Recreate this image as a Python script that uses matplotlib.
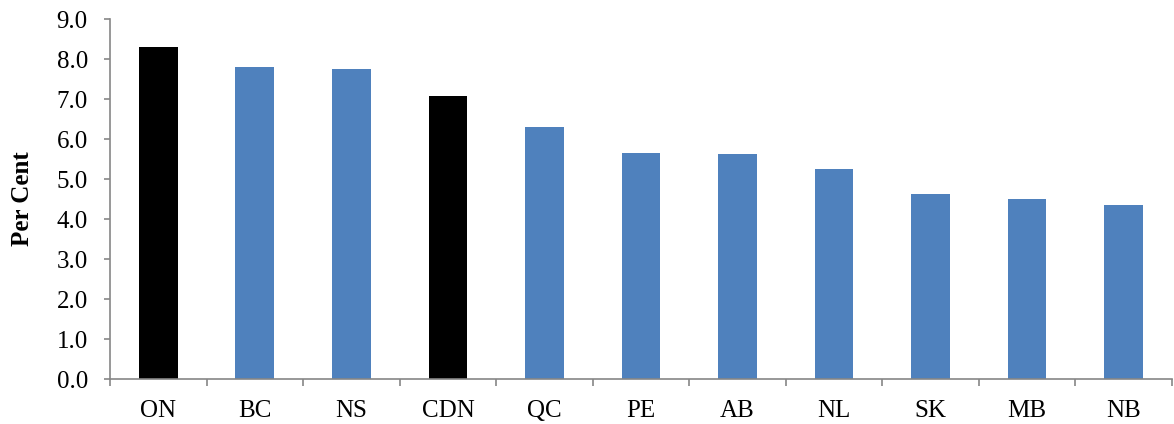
import numpy as np
import matplotlib
matplotlib.use("Agg")
import matplotlib.pyplot as plt

provinces = ["ON", "BC", "NS", "CDN", "QC", "PE", "AB", "NL", "SK", "MB", "NB"]
values = [8.3, 7.79, 7.75, 7.08, 6.29, 5.64, 5.62, 5.26, 4.62, 4.5, 4.35]
highlight = ["ON", "CDN"]

plt.rcParams["font.family"] = ["Liberation Serif", "DejaVu Serif"]

fig = plt.figure(figsize=(11.74, 4.24), dpi=100)
ax = fig.add_axes([0.0937, 0.106, 0.9045, 0.849])

x = np.arange(len(provinces))
colors = ["#000000" if p in highlight else "#4F81BD" for p in provinces]
ax.bar(x, values, width=0.4, color=colors)

ax.set_xlim(-0.5, len(provinces) - 0.5)
ax.set_ylim(0, 9)
yt = np.arange(0, 9.1, 1.0)
ax.set_yticks(yt)
ax.set_yticklabels([f"{v:.1f}" for v in yt], fontsize=18)
ax.set_xticks(x)
ax.set_xticklabels(provinces, fontsize=18)
ax.set_xticks(np.arange(-0.5, len(provinces), 1.0), minor=True)
ax.tick_params(axis="x", which="major", length=0, pad=15)
ax.tick_params(axis="x", which="minor", length=5, color="#868686", width=1.2, direction="out")
ax.tick_params(axis="y", length=4, color="#868686", width=1.2, direction="out", pad=12)

ax.set_ylabel("Per Cent", fontsize=18, fontweight="bold", labelpad=16)

for side in ["top", "right"]:
    ax.spines[side].set_visible(False)
for side in ["left", "bottom"]:
    ax.spines[side].set_color("#868686")
    ax.spines[side].set_linewidth(1.2)

fig.savefig("out.png", dpi=100)
